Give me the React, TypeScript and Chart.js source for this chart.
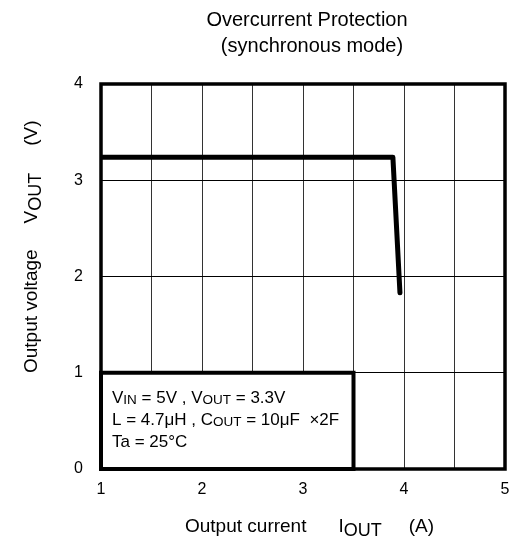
import React, { useEffect, useRef } from "react";
import { Chart, registerables } from "chart.js";

Chart.register(...registerables);

const FONT = '"Liberation Sans", Arial, Helvetica, sans-serif';

// ---- data ----
const currentA = [1, 3.89, 3.96];
const voltageV = [3.24, 3.24, 1.83];
const xTickValues = [1, 2, 3, 4, 5];
const yTickValues = [0, 1, 2, 3, 4];
const titleLines = ["Overcurrent Protection", "(synchronous mode)"];
const noteBoxX = [1, 3.5];
const noteBoxY = [0, 1];
// [text, isSubscript]
const noteLine1: [string, boolean][] = [["V", false], ["IN", true], [" = 5V , V", false], ["OUT", true], [" = 3.3V", false]];
const noteLine2: [string, boolean][] = [["L = 4.7μH , C", false], ["OUT", true], [" = 10μF  ×2F", false]];
const noteLine3: [string, boolean][] = [["Ta = 25°C", false]];
const xTitleParts: [string, boolean, number][] = [["Output current", false, 0], ["I", false, 32], ["OUT", true, 0], ["(A)", false, 27]];
const yTitleParts: [string, boolean, number][] = [["Output voltage", false, 0], ["V", false, 26], ["OUT", true, 0], ["(V)", false, 27]];

function drawRich(ctx: CanvasRenderingContext2D, parts: [string, boolean][], x: number, y: number, size: number, subSize: number, subShift: number) {
  let cx = x;
  for (const [t, sub] of parts) {
    ctx.font = `${sub ? subSize : size}px ${FONT}`;
    ctx.fillText(t, cx, sub ? y + subShift : y);
    cx += ctx.measureText(t).width;
  }
}

function drawRichGaps(ctx: CanvasRenderingContext2D, parts: [string, boolean, number][], x: number, y: number, size: number, subSize: number, subShift: number) {
  let cx = x;
  for (const [t, sub, gap] of parts) {
    cx += gap;
    ctx.font = `${sub ? subSize : size}px ${FONT}`;
    ctx.fillText(t, cx, sub ? y + subShift : y);
    cx += ctx.measureText(t).width;
  }
}

const decorPlugin = {
  id: "decor",
  afterDraw(chart: any) {
    const { ctx, chartArea: a, scales } = chart;
    const xs = scales.x, ys = scales.y;
    ctx.save();
    // note box
    const bx0 = xs.getPixelForValue(noteBoxX[0]);
    const bx1 = xs.getPixelForValue(noteBoxX[1]);
    const by0 = ys.getPixelForValue(noteBoxY[1]);
    const by1 = ys.getPixelForValue(noteBoxY[0]);
    ctx.fillStyle = "#fff";
    ctx.fillRect(bx0, by0, bx1 - bx0, by1 - by0);
    ctx.strokeStyle = "#000";
    ctx.lineWidth = 4;
    ctx.strokeRect(bx0, by0, bx1 - bx0, by1 - by0);
    ctx.fillStyle = "#000";
    ctx.textBaseline = "alphabetic";
    ctx.textAlign = "left";
    drawRich(ctx, noteLine1, bx0 + 11, by0 + 30, 17, 13.5, 1.5);
    drawRich(ctx, noteLine2, bx0 + 11, by0 + 52, 17, 13.5, 1.5);
    drawRich(ctx, noteLine3, bx0 + 11, by0 + 74, 17, 13.5, 1.5);
    // frame
    ctx.lineWidth = 3.5;
    ctx.strokeRect(a.left, a.top, a.right - a.left, a.bottom - a.top);
    // title
    ctx.font = `20px ${FONT}`;
    ctx.textAlign = "center";
    ctx.fillText(titleLines[0], 307, 26);
    ctx.fillText(titleLines[1], 312, 52);
    // x title
    ctx.textAlign = "left";
    drawRichGaps(ctx, xTitleParts, 185, 532, 19, 18, 4);
    // y title
    ctx.translate(37, 373);
    ctx.rotate(-Math.PI / 2);
    drawRichGaps(ctx, yTitleParts, 0, 0, 19, 18, 4);
    ctx.restore();
  },
};

export default function App() {
  const ref = useRef<HTMLCanvasElement>(null);
  useEffect(() => {
    const chart = new Chart(ref.current!, {
      type: "line",
      data: {
        datasets: [
          {
            data: currentA.map((x, i) => ({ x, y: voltageV[i] })),
            borderColor: "#000",
            borderWidth: 5,
            borderCapStyle: "round",
            borderJoinStyle: "round",
            pointRadius: 0,
            fill: false,
            tension: 0,
          },
        ],
      },
      options: {
        animation: false,
        responsive: false,
        devicePixelRatio: 1,
        layout: { padding: { top: 84, right: 6, left: 0, bottom: 0 } },
        plugins: { legend: { display: false }, title: { display: false }, tooltip: { enabled: false } },
        scales: {
          x: {
            type: "linear",
            min: 1,
            max: 5,
            ticks: {
              stepSize: 0.5,
              autoSkip: false,
              maxRotation: 0,
              padding: 11,
              color: "#000",
              font: { family: FONT, size: 16 },
              callback: (v: any) => (xTickValues.includes(Number(v)) ? String(v) : ""),
            },
            grid: { color: "#333", lineWidth: 1, drawTicks: false },
            border: { display: false },
            afterFit: (s: any) => {
              s.height = 70;
              s.paddingLeft = 0;
              s.paddingRight = 0;
            },
          },
          y: {
            type: "linear",
            min: 0,
            max: 4,
            ticks: {
              stepSize: 1,
              padding: 18,
              color: "#000",
              font: { family: FONT, size: 16 },
              callback: (v: any) => (yTickValues.includes(Number(v)) ? String(v) : ""),
            },
            grid: { color: "#000", lineWidth: 1, drawTicks: false },
            border: { display: false },
            afterFit: (s: any) => {
              s.width = 101;
              s.paddingTop = 0;
              s.paddingBottom = 0;
            },
          },
        },
      } as any,
      plugins: [decorPlugin],
    });
    return () => chart.destroy();
  }, []);
  return (
    <div style={{ position: "fixed", left: 0, top: 0, width: 511, height: 539, background: "#fff" }}>
      <canvas ref={ref} width={511} height={539} style={{ display: "block" }} />
    </div>
  );
}
